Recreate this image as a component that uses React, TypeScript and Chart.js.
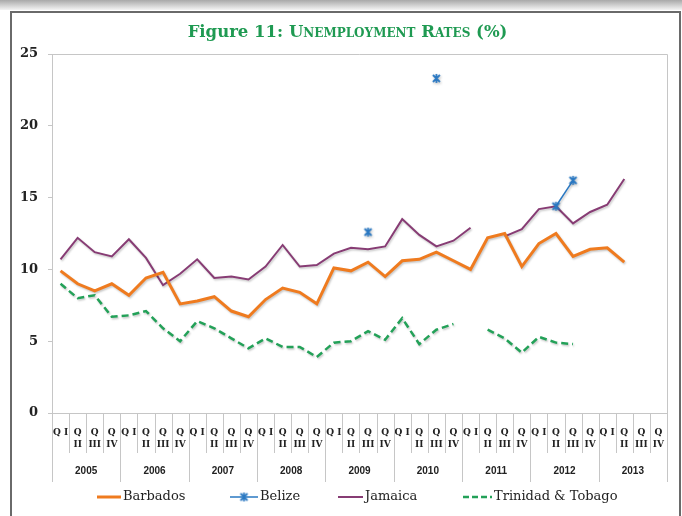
import React, { useEffect, useRef } from 'react';
import { Chart, registerables } from 'chart.js';

Chart.register(...registerables);

const years = ['2005', '2006', '2007', '2008', '2009', '2010', '2011', '2012', '2013'];
const quarterTicks: (string | string[])[] = ['Q I', ['Q', 'II'], ['Q', 'III'], ['Q', 'IV']];

const barbados = [9.9, 9.0, 8.5, 9.0, 8.2, 9.4, 9.8, 7.6, 7.8, 8.1, 7.1, 6.7, 7.9, 8.7, 8.4, 7.6, 10.1, 9.9, 10.5, 9.5, 10.6, 10.7, 11.2, 10.6, 10.0, 12.2, 12.5, 10.2, 11.8, 12.5, 10.9, 11.4, 11.5, 10.5, null, null];
const belize = [null, null, null, null, null, null, null, null, null, null, null, null, null, null, null, null, null, null, 12.6, null, null, null, 23.3, null, null, null, null, null, null, 14.4, 16.2, null, null, null, null, null];
const jamaica = [10.7, 12.2, 11.2, 10.9, 12.1, 10.8, 8.9, 9.7, 10.7, 9.4, 9.5, 9.3, 10.2, 11.7, 10.2, 10.3, 11.1, 11.5, 11.4, 11.6, 13.5, 12.4, 11.6, 12.0, 12.9, null, 12.3, 12.8, 14.2, 14.4, 13.2, 14.0, 14.5, 16.3, null, null];
const trinidad = [9.0, 8.0, 8.2, 6.7, 6.8, 7.1, 5.9, 5.0, 6.4, 5.9, 5.2, 4.5, 5.2, 4.6, 4.6, 3.9, 4.9, 5.0, 5.7, 5.1, 6.6, 4.8, 5.8, 6.2, null, 5.8, 5.2, 4.2, 5.3, 4.9, 4.8, null, null, null, null, null];

const seriesNames = ['Barbados', 'Belize', 'Jamaica', 'Trinidad & Tobago'];
const yTicks = [0, 5, 10, 15, 20, 25];

const C_BARB = '#ef7b1f';
const C_BEL = '#2a78c2';
const C_JAM = '#873c74';
const C_TT = '#23a158';
const GRID = '#c6c6c6';

function makeStar(): HTMLCanvasElement {
  const c = document.createElement('canvas');
  c.width = 11;
  c.height = 11;
  const g = c.getContext('2d')!;
  g.strokeStyle = C_BEL;
  g.lineWidth = 1.8;
  g.beginPath();
  g.moveTo(2, 2); g.lineTo(9, 9);
  g.moveTo(9, 2); g.lineTo(2, 9);
  g.moveTo(5.5, 1); g.lineTo(5.5, 10);
  g.stroke();
  return c;
}

export default function App() {
  const ref = useRef<HTMLCanvasElement | null>(null);

  useEffect(() => {
    if (!ref.current) return;
    const star = makeStar();
    const labels: (string | string[])[] = [];
    years.forEach(() => quarterTicks.forEach((q) => labels.push(q)));

    const framePlugin = {
      id: 'frame',
      beforeDraw(chart: any) {
        const ctx = chart.ctx;
        const W = chart.width, H = chart.height;
        ctx.save();
        ctx.fillStyle = '#ffffff';
        ctx.fillRect(0, 0, W, H);
        const g = ctx.createLinearGradient(0, 0, 0, 10);
        g.addColorStop(0, '#a9a9a9');
        g.addColorStop(1, '#f4f4f4');
        ctx.fillStyle = g;
        ctx.fillRect(0, 0, W, 10);
        ctx.strokeStyle = '#6a6a6a';
        ctx.lineWidth = 2;
        ctx.strokeRect(11, 12, W - 13, H + 10);
        ctx.restore();
      },
      beforeDatasetsDraw(chart: any) {
        const ctx = chart.ctx;
        ctx.save();
        ctx.shadowColor = 'rgba(0,0,0,0.22)';
        ctx.shadowBlur = 2;
        ctx.shadowOffsetX = 1;
        ctx.shadowOffsetY = 1.5;
      },
      afterDatasetsDraw(chart: any) {
        chart.ctx.restore();
      },
      afterDraw(chart: any) {
        const ctx = chart.ctx;
        const a = chart.chartArea;
        const xs = chart.scales.x;
        const w = xs.getPixelForValue(1) - xs.getPixelForValue(0);
        ctx.save();
        ctx.strokeStyle = GRID;
        ctx.lineWidth = 1;
        ctx.beginPath();
        ctx.moveTo(a.left, a.top + 0.5);
        ctx.lineTo(a.right + 0.5, a.top + 0.5);
        ctx.lineTo(a.right + 0.5, a.bottom);
        ctx.moveTo(a.left - 4, a.bottom + 0.5);
        ctx.lineTo(a.right + 0.5, a.bottom + 0.5);
        ctx.stroke();
        ctx.beginPath();
        for (let i = 0; i <= labels.length; i++) {
          const x = Math.round(xs.getPixelForValue(i) - w / 2) + 0.5;
          const isYear = i % 4 === 0;
          ctx.moveTo(x, a.bottom);
          ctx.lineTo(x, isYear ? a.bottom + 69 : a.bottom + 40);
        }
        ctx.stroke();
        ctx.fillStyle = '#222';
        ctx.font = 'bold 10px "Liberation Sans", Arial, sans-serif';
        ctx.textAlign = 'center';
        ctx.textBaseline = 'middle';
        years.forEach((y, k) => {
          const cx = (xs.getPixelForValue(4 * k) + xs.getPixelForValue(4 * k + 3)) / 2;
          ctx.fillText(y, cx, a.bottom + 58);
        });
        const ly = 497;
        ctx.font = '13px "DejaVu Serif", serif';
        ctx.textAlign = 'left';
        ctx.fillStyle = '#222';
        const items = [
          { x: 97, len: 24, color: C_BARB, width: 3, dash: [] as number[], marker: false },
          { x: 230, len: 28, color: C_BEL, width: 1.5, dash: [] as number[], marker: true },
          { x: 338, len: 25, color: C_JAM, width: 2, dash: [] as number[], marker: false },
          { x: 463, len: 29, color: C_TT, width: 2.5, dash: [6, 3], marker: false },
        ];
        items.forEach((it, k) => {
          ctx.save();
          ctx.strokeStyle = it.color;
          ctx.lineWidth = it.width;
          ctx.setLineDash(it.dash);
          ctx.beginPath();
          ctx.moveTo(it.x, ly);
          ctx.lineTo(it.x + it.len, ly);
          ctx.stroke();
          ctx.restore();
          if (it.marker) ctx.drawImage(star, it.x + it.len / 2 - 5.5, ly - 5.5);
          ctx.fillText(seriesNames[k], it.x + it.len + 2, ly);
        });
        ctx.restore();
      },
    };

    const chart = new Chart(ref.current, {
      type: 'line',
      data: {
        labels,
        datasets: [
          { label: seriesNames[0], data: barbados, borderColor: C_BARB, backgroundColor: C_BARB, borderWidth: 3, pointRadius: 0, spanGaps: false, tension: 0 },
          { label: seriesNames[1], data: belize, borderColor: C_BEL, backgroundColor: C_BEL, borderWidth: 1.5, pointStyle: star as any, pointRadius: 5, spanGaps: false },
          { label: seriesNames[2], data: jamaica, borderColor: C_JAM, backgroundColor: C_JAM, borderWidth: 2, pointRadius: 0, spanGaps: false },
          { label: seriesNames[3], data: trinidad, borderColor: C_TT, backgroundColor: C_TT, borderWidth: 2.5, borderDash: [7, 4], pointRadius: 0, spanGaps: false },
        ],
      },
      options: {
        animation: false,
        responsive: false,
        maintainAspectRatio: false,
        layout: { padding: { top: 54, right: 15, left: 0, bottom: 0 } },
        plugins: {
          legend: { display: false },
          title: { display: false },
          tooltip: { enabled: false },
        },
        scales: {
          x: {
            type: 'category',
            offset: true,
            grid: { display: false, drawTicks: false },
            border: { display: false },
            ticks: {
              autoSkip: false,
              maxRotation: 0,
              minRotation: 0,
              padding: 14,
              color: '#222',
              font: { family: '"DejaVu Serif", serif', size: 9, weight: 'bold', lineHeight: 1.333 },
            },
            afterFit: (s: any) => { s.height = 103; },
          },
          y: {
            min: 0,
            max: 25,
            afterBuildTicks: (s: any) => { s.ticks = yTicks.map((v) => ({ value: v })); },
            ticks: {
              padding: 10,
              color: '#222',
              font: { family: '"DejaVu Serif", serif', size: 13, weight: 'bold' },
            },
            grid: { drawOnChartArea: false, drawTicks: true, tickLength: 4, color: GRID },
            border: { display: true, color: GRID },
            afterFit: (s: any) => { s.width = 52; },
          },
        },
      },
      plugins: [framePlugin],
    });
    return () => chart.destroy();
  }, []);

  return (
    <div style={{ position: 'fixed', left: 0, top: 0, width: 682, height: 516, background: '#fff' }}>
      <canvas ref={ref} width={682} height={516} style={{ display: 'block', width: 682, height: 516 }} />
      <div
        style={{
          position: 'absolute',
          left: 0,
          top: 22,
          width: 695,
          textAlign: 'center',
          color: '#1f9a52',
          fontFamily: '"DejaVu Serif", serif',
          fontWeight: 'bold',
          fontSize: 16.5,
          lineHeight: '20px',
          whiteSpace: 'nowrap',
        }}
      >
        Figure 11: <span style={{ fontVariant: 'small-caps' }}>Unemployment Rates</span> (%)
      </div>
    </div>
  );
}
